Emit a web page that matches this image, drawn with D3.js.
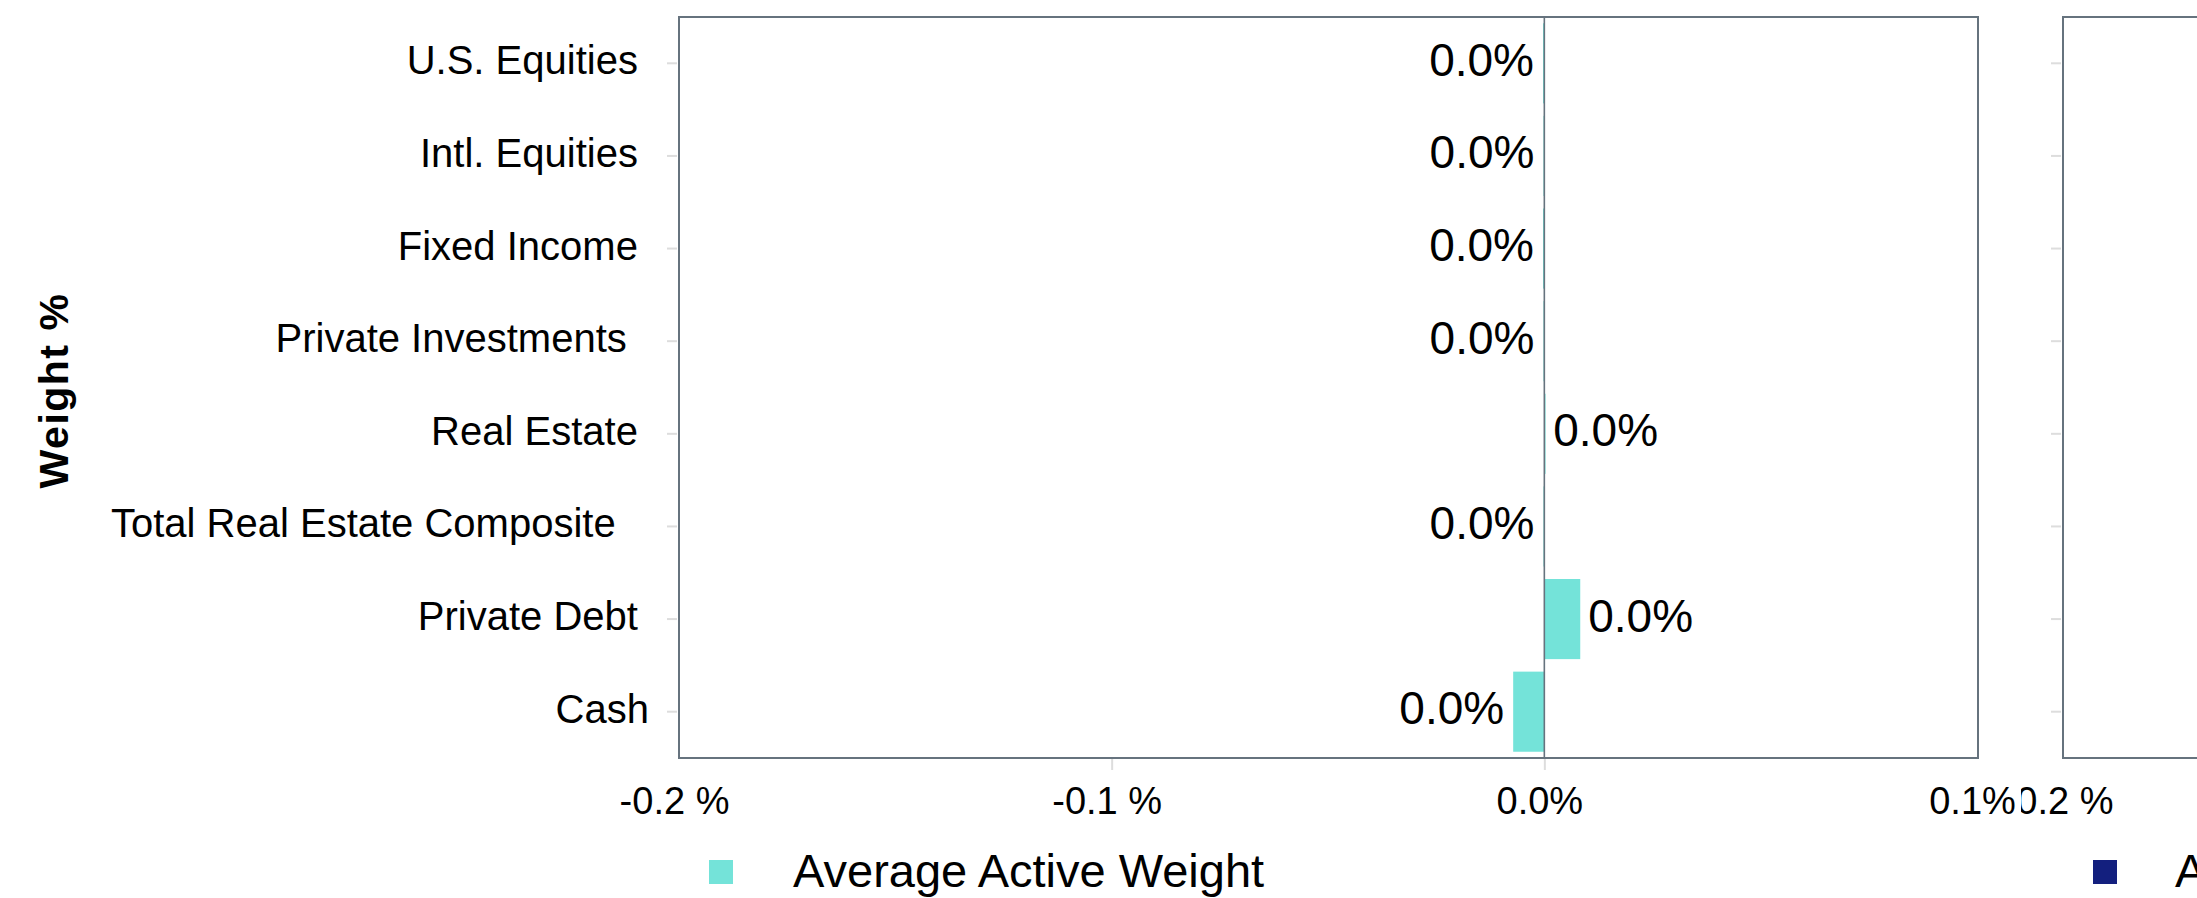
<!DOCTYPE html>
<html>
<head>
<meta charset="utf-8">
<script src="https://cdn.jsdelivr.net/npm/d3@7"></script>
<style>
  html, body { margin: 0; padding: 0; background: #ffffff; }
  svg { display: block; font-family: "Liberation Sans", Arial, Helvetica, sans-serif; }
  text { white-space: pre; }
</style>
</head>
<body>
<svg id="chart" width="2197" height="898"></svg>
<script>
// ---- data ----
const categories = [
  "U.S. Equities ",
  "Intl. Equities ",
  "Fixed Income ",
  "Private Investments  ",
  "Real Estate ",
  "Total Real Estate Composite   ",
  "Private Debt ",
  "Cash"
];
const activeWeights = [-0.0003, -0.0002, -0.0003, -0.0002, 0.0002, -0.0002, 0.0083, -0.0072]; // in %
const xTickValues = [-0.2, -0.1, 0.0, 0.1];
const xTickLabels = ["-0.2 %", "-0.1 %", "0.0%", "0.1%"];
const panel2TickValues = [-0.2];
const panel2TickLabels = ["-0.2 %"];
const legendLabels = ["Average Active Weight", "Average Weight"];
const seriesColors = ["#74e3d9", "#131f7e"];

// ---- layout ----
const svg = d3.select("#chart");
const W = 2197, H = 898;
const plot = { left: 679, right: 1978, top: 17, bottom: 758 };
const frameColor = "#66737e";
const tickColor = "#dddddd";

const x = d3.scaleLinear().domain([-0.2, 0.1]).range([plot.left, plot.right - 1]);
const y = d3.scaleBand().domain(categories).range([plot.top, plot.bottom])
  .paddingInner(0.135).paddingOuter(0.0675);

// y axis (category labels + light ticks)
const yAxis = d3.axisLeft(y).tickSize(10).tickPadding(18).tickFormat(d => d);
const gy = svg.append("g").attr("transform", `translate(${plot.left - 2},0)`).call(yAxis);
gy.select(".domain").remove();
gy.selectAll(".tick line").attr("stroke", tickColor).attr("stroke-width", 2);
gy.selectAll(".tick text")
  .attr("dy", null).attr("y", 11)
  .attr("font-size", 40).attr("fill", "#000")
  .attr("font-family", "'Liberation Sans', Arial, sans-serif");

// x axis
const xAxis = d3.axisBottom(x).tickValues(xTickValues).tickSize(12)
  .tickFormat((d, i) => xTickLabels[i]);
const gx = svg.append("g").attr("transform", `translate(0,${plot.bottom})`).call(xAxis);
gx.select(".domain").remove();
gx.selectAll(".tick line").attr("stroke", tickColor).attr("stroke-width", 2)
  .attr("display", (d, i) => (i === 0 || i === xTickValues.length - 1) ? "none" : null);
gx.selectAll(".tick text")
  .attr("dy", null).attr("y", 56).attr("dx", -5)
  .attr("font-size", 38).attr("fill", "#000")
  .attr("font-family", "'Liberation Sans', Arial, sans-serif");

// plot frame
svg.append("rect")
  .attr("x", plot.left).attr("y", plot.top)
  .attr("width", plot.right - plot.left).attr("height", plot.bottom - plot.top)
  .attr("fill", "none").attr("stroke", frameColor).attr("stroke-width", 2);

// bars
svg.append("g").selectAll("rect")
  .data(activeWeights)
  .join("rect")
  .attr("x", d => Math.min(x(0), x(d)))
  .attr("y", (d, i) => y(categories[i]))
  .attr("width", d => Math.max(1.2, Math.abs(x(d) - x(0))))
  .attr("height", y.bandwidth())
  .attr("fill", seriesColors[0]);

// zero line
svg.append("line")
  .attr("x1", x(0)).attr("x2", x(0))
  .attr("y1", plot.top).attr("y2", plot.bottom)
  .attr("stroke", frameColor).attr("stroke-width", 1.6);

// value labels
const fmt = d3.format(".1%");
svg.append("g").selectAll("text")
  .data(activeWeights)
  .join("text")
  .attr("x", d => d < 0 ? x(d) - 9 : x(d) + 8)
  .attr("y", (d, i) => y(categories[i]) + y.bandwidth() / 2 + 12.5)
  .attr("text-anchor", d => d < 0 ? "end" : "start")
  .attr("font-size", 46)
  .attr("fill", "#000")
  .text(d => fmt(d / 100));

// y axis title
svg.append("text")
  .attr("transform", `translate(68,${(plot.top + plot.bottom) / 2 + 3}) rotate(-90)`)
  .attr("text-anchor", "middle")
  .attr("font-size", 41).attr("font-weight", "bold").attr("fill", "#000")
  .attr("letter-spacing", 1.5)
  .text("Weight %");

// legend panel 1
svg.append("rect").attr("x", plot.left + 30).attr("y", 860).attr("width", 24).attr("height", 24)
  .attr("fill", seriesColors[0]);
svg.append("text").attr("x", plot.left + 114).attr("y", 887)
  .attr("font-size", 47).attr("fill", "#000").text(legendLabels[0]);

// ---- second panel (mostly outside the view) ----
const clipX = 2021;
svg.append("clipPath").attr("id", "clip2")
  .append("rect").attr("x", clipX).attr("y", 0).attr("width", W - clipX).attr("height", H);
const p2 = svg.append("g").attr("clip-path", "url(#clip2)");
const p2left = 2063;
const x2 = d3.scaleLinear().domain([-0.2, 0.1]).range([p2left, p2left + (plot.right - plot.left)]);

const gy2 = p2.append("g").attr("transform", `translate(${p2left - 2},0)`)
  .call(d3.axisLeft(y).tickSize(10).tickFormat(""));
gy2.select(".domain").remove();
gy2.selectAll(".tick line").attr("stroke", tickColor).attr("stroke-width", 2);

const gx2 = p2.append("g").attr("transform", `translate(0,${plot.bottom})`)
  .call(d3.axisBottom(x2).tickValues(panel2TickValues).tickSize(0)
    .tickFormat((d, i) => panel2TickLabels[i]));
gx2.select(".domain").remove();
gx2.selectAll(".tick text")
  .attr("dy", null).attr("y", 56).attr("dx", -5)
  .attr("font-size", 38).attr("fill", "#000")
  .attr("font-family", "'Liberation Sans', Arial, sans-serif");

p2.append("rect")
  .attr("x", p2left).attr("y", plot.top)
  .attr("width", plot.right - plot.left).attr("height", plot.bottom - plot.top)
  .attr("fill", "none").attr("stroke", frameColor).attr("stroke-width", 2);

p2.append("rect").attr("x", p2left + 30).attr("y", 860).attr("width", 24).attr("height", 24)
  .attr("fill", seriesColors[1]);
p2.append("text").attr("x", p2left + 112).attr("y", 887)
  .attr("font-size", 47).attr("fill", "#000").text(legendLabels[1]);
</script>
</body>
</html>
